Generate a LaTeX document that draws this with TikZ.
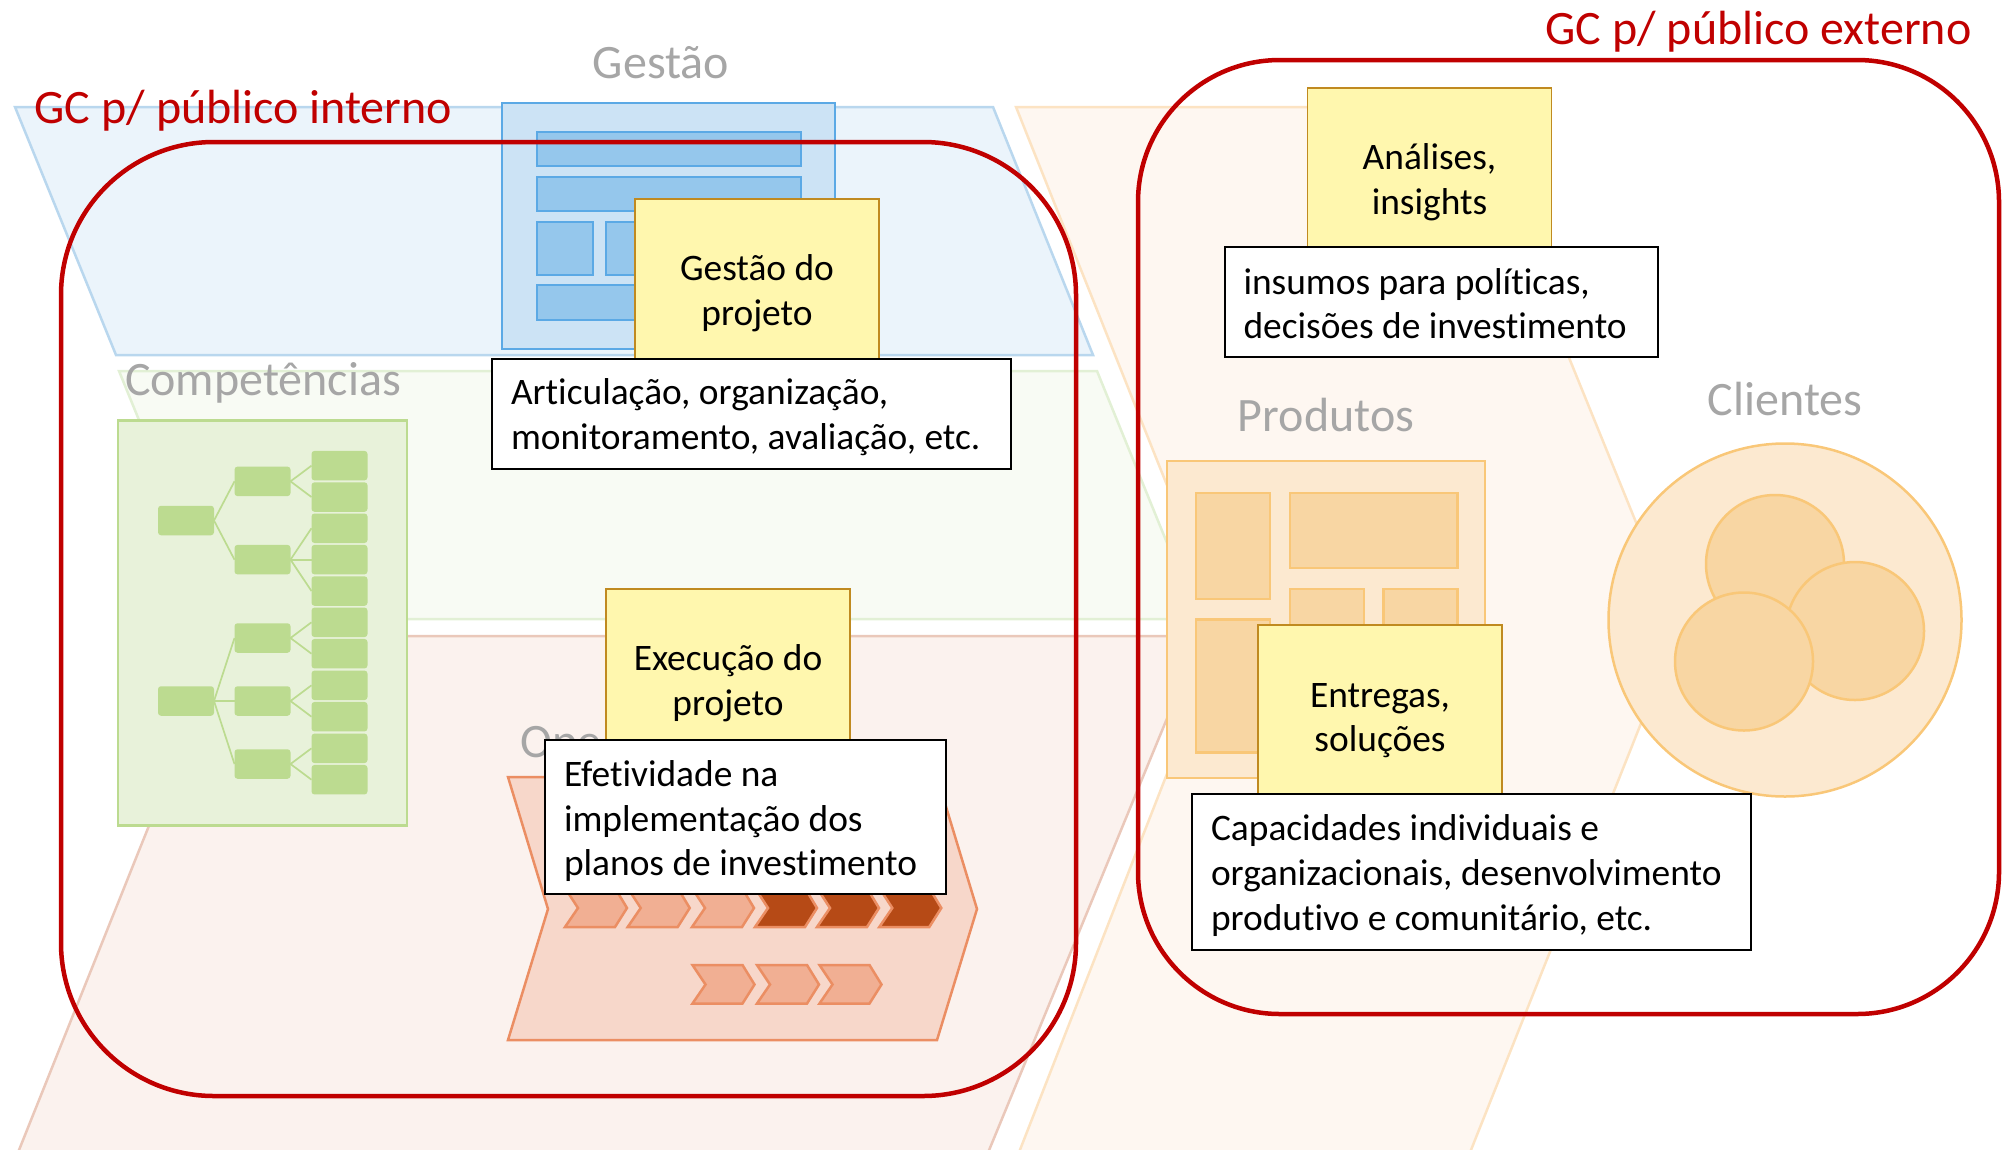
\documentclass[tikz,border=0pt]{standalone}
\usepackage{fontspec}
\setmainfont[Ligatures=NoCommon]{Carlito}
\definecolor{azulfundo}{HTML}{EBF4FB}
\definecolor{azulborda}{HTML}{B9D7EE}
\definecolor{azulcaixa}{HTML}{CCE3F5}
\definecolor{azulforte}{HTML}{5BA9E5}
\definecolor{azulbloco}{HTML}{95C7EC}
\definecolor{verdefundo}{HTML}{F8FBF4}
\definecolor{verdeborda}{HTML}{E2F0D5}
\definecolor{verdecaixa}{HTML}{E8F2DA}
\definecolor{verdeforte}{HTML}{BCDB90}
\definecolor{rosafundo}{HTML}{FBF2EE}
\definecolor{rosaborda}{HTML}{EAC8BA}
\definecolor{opcaixa}{HTML}{F7D7CA}
\definecolor{opforte}{HTML}{EB8E63}
\definecolor{opbloco}{HTML}{F1AF93}
\definecolor{opescuro}{HTML}{B64A16}
\definecolor{larfundo}{HTML}{FEF7F1}
\definecolor{larborda}{HTML}{FCE3C3}
\definecolor{larcaixa}{HTML}{FCE9D0}
\definecolor{larforte}{HTML}{F9C778}
\definecolor{larbloco}{HTML}{F8D6A3}
\definecolor{notafundo}{HTML}{FFF7AE}
\definecolor{notaborda}{HTML}{C08A20}
\definecolor{rotulo}{HTML}{A6A6A6}
\definecolor{gcvermelho}{HTML}{C00000}

\begin{document}
\begin{tikzpicture}[
              x=1pt, y=-1pt,
              font=\fontsize{37.4}{44.7}\selectfont,
              level 1/.style={level distance=76.5pt},
              level 2/.style={level distance=77pt,sibling distance=31.4pt},
              orgbox/.style={fill=verdeforte, rounded corners=3pt, inner sep=0pt, outer sep=0pt,
                minimum width=56pt, minimum height=29.5pt},
              edge from parent/.style={draw=verdeforte, line width=1.7pt},
              edge from parent path={(\tikzparentnode.east) -- (\tikzchildnode.west)},
              plano/.style={line width=2.5pt},
              caixa/.style={anchor=north west, inner sep=0pt, outer sep=0pt, line width=2.5pt},
              azulbox/.style={caixa, draw=azulforte, fill=azulbloco},
              larbox/.style={caixa, draw=larforte, fill=larbloco},
              rotulotxt/.style={anchor=base, text=rotulo, font=\fontsize{48}{56}\selectfont},
              gctxt/.style={anchor=base, text=gcvermelho, font=\fontsize{48}{56}\selectfont},
              nota/.style={caixa, draw=notaborda, fill=notafundo, line width=1.5pt, align=center},
              quadro/.style={anchor=north west, draw=black, fill=white, line width=2pt, outer sep=0pt,
                inner xsep=19pt, inner ysep=0pt, align=flush left},
              gcborda/.style={draw=gcvermelho, line width=4.5pt},
              circulo/.style={circle, draw=larforte, line width=2.5pt, inner sep=0pt}
            ]
              \useasboundingbox (0,0) rectangle (2009,1149);

              % planos de fundo
              \draw[plano, draw=azulborda, fill=azulfundo] (15,107) -- (993,107) -- (1093,355) -- (116,355) -- cycle;
              \draw[plano, draw=verdeborda, fill=verdefundo] (119,371) -- (1097,371) -- (1198,619) -- (220,619) -- cycle;
              \draw[plano, draw=rosaborda, fill=rosafundo] (225,636) -- (1201,636) -- (985,1160) -- (15,1160) -- cycle;
              \draw[plano, draw=larborda, fill=larfundo] (1016,107) -- (1467,107) -- (1679,628) -- (1467,1160)
                -- (1016,1160) -- (1224,628) -- cycle;

              % gestao
              \node[rotulotxt] (tgestao) at (661,78) {Gestão};
              \node[caixa, draw=azulforte, fill=azulcaixa, minimum width=333pt, minimum height=246pt] (gestao) at (502,103) {};
              \node[azulbox, minimum width=264pt, minimum height=34pt] (g1) at (537,132) {};
              \node[azulbox, minimum width=264pt, minimum height=34pt] (g2) at (537,177) {};
              \node[azulbox, minimum width=56pt, minimum height=53pt] (g3) at (537,222) {};
              \node[azulbox, minimum width=56pt, minimum height=53pt] (g4) at (606,222) {};
              \node[azulbox, minimum width=264pt, minimum height=35pt] (g5) at (537,285) {};

              % competencias
              \node[rotulotxt] (tcomp) at (263,395) {Competências};
              \node[caixa, draw=verdeforte, fill=verdecaixa, minimum width=289pt, minimum height=405pt] (comp) at (118,420.5) {};
              \node[orgbox] (raizA) at (186,520.5) {} [grow'=right, sibling distance=78.3pt]
              child {node[orgbox] (a1) {}
                child {node[orgbox] (a11) {}}
                child {node[orgbox] (a12) {}}
              }
              child {node[orgbox] (a2) {}
                child {node[orgbox] (a21) {}}
                child {node[orgbox] (a22) {}}
                child {node[orgbox] (a23) {}}
              };
              \node[orgbox] (raizB) at (186,701) {} [grow'=right, sibling distance=63pt]
              child {node[orgbox] (b1) {}
                child {node[orgbox] (b11) {}}
                child {node[orgbox] (b12) {}}
              }
              child {node[orgbox] (b2) {}
                child {node[orgbox] (b21) {}}
                child {node[orgbox] (b22) {}}
              }
              child {node[orgbox] (b3) {}
                child {node[orgbox] (b31) {}}
                child {node[orgbox] (b32) {}}
              };

              % operacoes
              \node[rotulotxt, anchor=base west] (top) at (517,757) {Ope};
              \draw[plano, draw=opforte, fill=opcaixa] (508,777) -- (937,777) -- (977,909) -- (937,1040) -- (508,1040) -- (548,909) -- cycle;
              \foreach \xa/\cor in {565/opbloco, 627.7/opbloco, 692/opbloco, 755/opescuro, 817/opescuro, 879.3/opescuro}
                \draw[plano, draw=opforte, fill=\cor] (\xa,888) -- (\xa+50,888) -- (\xa+62,908) -- (\xa+50,927) -- (\xa,927) -- (\xa+13,908) -- cycle;
              \foreach \xa in {692.5, 757, 819.5}
                \draw[plano, draw=opforte, fill=opbloco] (\xa,965) -- (\xa+50,965) -- (\xa+62,984.5) -- (\xa+50,1003.5) -- (\xa,1003.5) -- (\xa+13,984.5) -- cycle;

              % produtos
              \node[rotulotxt] (tprod) at (1326,431) {Produtos};
              \node[caixa, draw=larforte, fill=larcaixa, minimum width=318pt, minimum height=317pt] (prod) at (1167,461) {};
              \node[larbox, minimum width=74pt, minimum height=106pt] (p1) at (1196,493) {};
              \node[larbox, minimum width=167.5pt, minimum height=75pt] (p2) at (1290,493) {};
              \node[larbox, minimum width=74pt, minimum height=60pt] (p3) at (1290,589) {};
              \node[larbox, minimum width=74pt, minimum height=60pt] (p4) at (1383.5,589) {};
              \node[larbox, minimum width=74pt, minimum height=133pt] (p5) at (1196,619.5) {};

              % clientes
              \node[rotulotxt] (tclientes) at (1785,415) {Clientes};
              \node[circulo, fill=larcaixa, minimum size=353pt] (clientes) at (1785,620) {};
              \node[circulo, fill=larbloco, minimum size=138pt] (c1) at (1775,564) {};
              \node[circulo, fill=larbloco, minimum size=138pt] (c2) at (1855,631) {};
              \node[circulo, fill=larbloco, minimum size=138pt] (c3) at (1744,661.5) {};

              % notas
              \node[nota, minimum width=244pt, minimum height=189pt] (ngestao) at (635,199) {Gestão do\\projeto};
              \node[nota, minimum width=244pt, minimum height=188pt] (nexec) at (606,589) {Execução do\\projeto};
              \node[nota, minimum width=244pt, minimum height=188pt] (nanal) at (1307.5,88) {Análises,\\insights};
              \node[nota, minimum width=244pt, minimum height=191pt] (nentr) at (1258,625) {Entregas,\\soluções};

              \node[quadro, text width=481pt, text height=32pt, minimum height=110pt] (qgestao) at (492,359) {Articulação, organização,\\monitoramento, avaliação, etc.};
              \node[quadro, text width=363pt, text height=34pt, minimum height=154pt] (qexec) at (545,740) {Efetividade na\\implementação dos\\planos de investimento};
              \node[quadro, text width=395pt, text height=29pt, minimum height=110pt] (qanal) at (1224.5,247) {insumos para políticas,\\decisões de investimento};
              \node[quadro, text width=521pt, text height=33pt, minimum height=156pt] (qentr) at (1192,794) {Capacidades individuais e\\organizacionais, desenvolvimento\\produtivo e comunitário, etc.};

              % publicos
              \draw[gcborda, rounded corners=153pt] (61,142) rectangle (1076,1096);
              \draw[gcborda, rounded corners=142pt] (1138,60) rectangle (1999,1014);
              \node[gctxt] (gcint) at (243.5,123) {GC p/ público interno};
              \node[gctxt] (gcext) at (1758.5,44) {GC p/ público externo};
            \end{tikzpicture}
\end{document}
